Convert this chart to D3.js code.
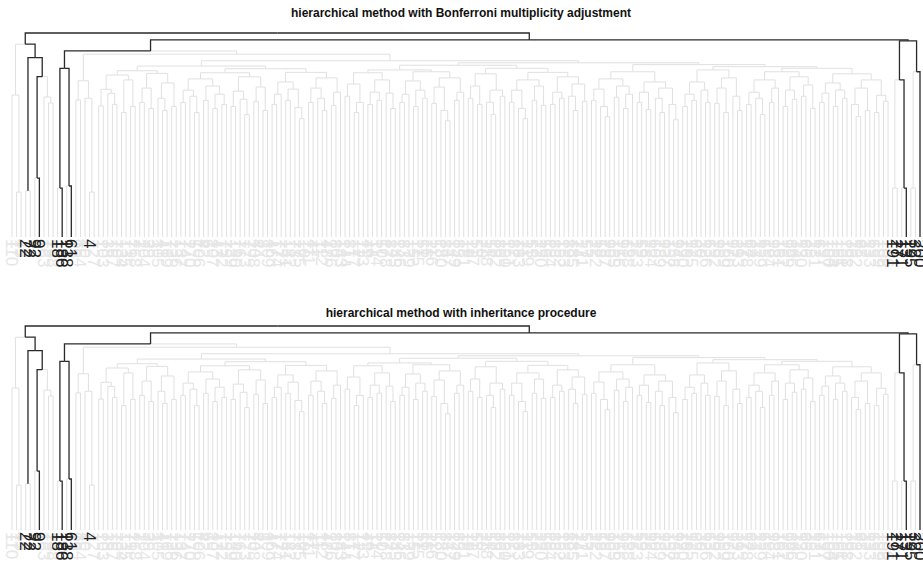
<!DOCTYPE html>
<html>
<head>
<meta charset="utf-8">
<title>Hierarchical testing dendrograms</title>
<style>
  body { margin: 0; background: #fff; }
  .title { font: bold 12px "Liberation Sans", Arial, sans-serif; fill: #111; }
  .lab { font-family: "Liberation Sans", Arial, sans-serif; font-size: 17px; }
</style>
</head>
<body>
<div id="chart"></div>
<script src="https://d3js.org/d3.v7.min.js"></script>
<script>
// each node is [merge height, left, right]; L marks a leaf
var L = 0;

var leftGroup = [94.5,
  [69.6, L, [22, L, L]],
  [87.9, [22.7, L, L], [78.6, [28.9, L, L], [68.6, L, [65.7, L, L]]]]];
var sig18 = [82.7, [24, L, L], [25, L, L]];
var clusterL1 = [76.6, [67.2, L, L], [68, L, [22, L, L]]];

var blockA11 = [79.4, [72.4, [64.2, L, L], [70.4, L, [65, L, L]]], [77, [61, L, L], [64, L, L]]];
var blockA12 = [80.2, [73, [66, L, L], [63, L, L]], [75.5, [68, L, [62, L, L]], [64, L, L]]];
var blockA21 = [80.5,
  [77.5, [72, [66, L, L], [69, L, [61, L, L]]], [74, [67, L, L], [70, [63, L, L], [65, L, L]]]],
  [78.5, [71.5, [64, L, L], [67.5, L, [60, L, L]]], [73.5, [66.5, L, L], [62, L, L]]]];
var blockA22 = [80.7,
  [76, [70, [65, L, L], L], [72.5, [67, L, L], [63.5, L, [58, L, L]]]],
  [78, [73, [66, L, L], [68, L, [62, L, L]]], [71, [64.5, L, L], L]]];
var blockB111 = [80.5, [75, [69, L, L], [66, [61, L, L], L]], [77, [71, [65, L, L], [67, L, L]], [70.5, L, [63, L, L]]]];
var blockB112 = [81, [76.5, [70, [66, L, L], L], [72, [64, L, L], [68, L, L]]], [78, [73.5, [65.5, L, L], [62, L, [57, L, L]]], [71, [67, L, L], L]]];
var blockB121 = [80, [74, [68, L, L], [65, L, L]], [72, [66, L, [60, L, L]], [69, L, L]]];
var blockB122 = [80.7,
  [77, [72, [66, L, L], [63, L, [58, L, L]]], [74, [67, L, L], [64.5, L, L]]],
  [78.5, [71, [65, L, L], [68, L, L]], [75, [69, L, [62, L, L]], [66.5, L, L]]]];
var blockB21 = [81,
  [77.5, [72.5, [67, L, L], [64, L, [59, L, L]]], [74, [68.5, L, L], [70, [63, L, L], L]]],
  [76, [71, [66, L, L], [62.5, L, L]], [73, [68, L, [61, L, L]], [65, L, [57.5, L, L]]]]];
var blockB221 = [81.9, [76, [70, [64, L, L], [67, L, L]], [72, L, [66, L, L]]], [78, [73, [65.5, L, L], [61, L, L]], [69, L, [62, L, L]]]];
var blockB2221 = [81, [77, [71, [65, L, L], [68, L, [60, L, L]]], [73, [66, L, L], L]], [78.5, [72, [64, L, L], [67.5, L, L]], [74.5, [69, L, L], [63, L, L]]]];
var blockB2222 = [80, [75.5, [70.5, [66, L, L], L], [72, [64, L, L], [68, L, L]]], [77, [73, [65, L, [59, L, L]], [62, L, L]], [69.5, [61, L, L], [66.5, L, L]]]];

var bigCluster = [89.6, clusterL1,
  [86.4,
    [83.8, [81.5, blockA11, blockA12], [82.5, blockA21, blockA22]],
    [85.4,
      [84.2, [81.9, blockB111, blockB112], [82.7, blockB121, blockB122]],
      [84.5, blockB21, [83.5, blockB221, [82.7, blockB2221, blockB2222]]]]]];

var rightGroup = [96.1, [77, [24, L, L], [24, L, L]], [81, [24, L, L], L]];

var tree = [100, leftGroup, [96.6, [91.2, sig18, bigCluster], rightGroup]];

// leaf labels, left to right
var leafLabels = [110, 17, 45, 22, 72, 92, 9, 163, 79, 148, 18, 186, 138, 61,
  96, 154, 40, 4, 127,
  1, 103, 38, 167, 70, 134, 135, 71, 168, 2, 104, 39,
  3, 105, 41, 169, 73, 136, 137, 74, 170, 5, 106, 42,
  6, 107, 43, 172, 75, 139, 140, 76, 173, 7, 108, 44,
  8, 109, 46, 174, 77, 141, 142, 78, 175, 10, 111, 47,
  11, 112, 48, 176, 80, 143, 144, 81, 177, 12, 113, 49,
  14, 114, 50, 178, 82, 145, 146, 83, 179, 15, 115, 51,
  16, 116, 52, 180, 84, 147, 149, 85, 181, 19, 117, 53,
  20, 118, 54, 182, 86, 150, 151, 87, 183, 21, 119, 55,
  23, 120, 56, 184, 88, 152, 153, 89, 185, 24, 121, 57,
  25, 122, 58, 187, 90, 155, 156, 91, 188, 26, 123, 59,
  28, 124, 60, 189, 93, 157, 158, 94, 190, 29, 125, 62,
  30, 126, 63, 192, 95, 159, 160, 97, 193, 31, 128, 64,
  33, 129, 65, 194, 98, 161, 162, 99, 196, 34, 130, 66,
  35, 131, 67, 197, 100, 164, 165, 101, 198, 36, 132, 68,
  37, 133, 69, 199, 102, 166,
  191, 27, 171, 13, 195, 32, 200];

// significant clusters (by labels) for each method
var sigBonferroni = [[22, 72], [9], [186], [61], [13], [200]];
var sigInheritance = [[22, 72], [9], [186], [61], [13], [200]];
var darkLabels = [22, 72, 92, 9, 18, 186, 138, 61, 4, 191, 27, 171, 13, 195, 32, 200];

var titles = ["hierarchical method with Bonferroni multiplicity adjustment",
              "hierarchical method with inheritance procedure"];

var width = 923, height = 562;
var svg = d3.select("#chart").append("svg")
    .attr("width", width)
    .attr("height", height);

var x = d3.scaleLinear().domain([0.5, leafLabels.length - 0.5]).range([12, 920]);

function drawPanel(title, sig, top, base, titleY) {
    var root = d3.hierarchy(tree, function(d) { return Array.isArray(d) ? d.slice(1) : null; });
    d3.cluster().separation(function() { return 1; }).size([leafLabels.length, 1])(root);
    root.leaves().forEach(function(l, i) { l.label = leafLabels[i]; });
    root.each(function(d) {
        d.h = Array.isArray(d.data) ? d.data[0] : 0;
        var labs = d.leaves().map(function(l) { return l.label; });
        d.black = sig.some(function(s) {
            return s.every(function(v) { return labs.indexOf(v) >= 0; });
        });
    });

    var y = d3.scaleLinear().domain([0, 100]).range([base, top]);
    var g = svg.append("g");

    g.append("text")
        .attr("class", "title")
        .attr("x", 461)
        .attr("y", titleY)
        .attr("text-anchor", "middle")
        .text(title);

    var links = root.links().sort(function(a, b) { return a.target.black - b.target.black; });
    g.selectAll(".link")
        .data(links)
        .enter().append("path")
        .attr("class", "link")
        .attr("fill", "none")
        .attr("stroke", function(l) { return l.target.black ? "#2a2a2a" : "#e0e0e0"; })
        .attr("stroke-width", function(l) { return l.target.black ? 1.3 : 1; })
        .attr("d", function(l) {
            return "M" + x(l.source.x) + "," + y(l.source.h) +
                   "H" + x(l.target.x) + "V" + y(l.target.h);
        });

    var leaves = root.leaves().sort(function(a, b) {
        return (darkLabels.indexOf(a.label) >= 0) - (darkLabels.indexOf(b.label) >= 0);
    });
    g.selectAll(".lab")
        .data(leaves)
        .enter().append("text")
        .attr("class", "lab")
        .attr("transform", function(d) { return "translate(" + x(d.x) + "," + (base + 2) + ") rotate(90)"; })
        .attr("dy", "0.35em")
        .attr("fill", function(d) { return darkLabels.indexOf(d.label) >= 0 ? "#222" : "#e6e6e6"; })
        .text(function(d) { return d.label; });
}

drawPanel(titles[0], sigBonferroni, 33, 237, 17);
drawPanel(titles[1], sigInheritance, 326, 530, 317);
</script>
</body>
</html>
